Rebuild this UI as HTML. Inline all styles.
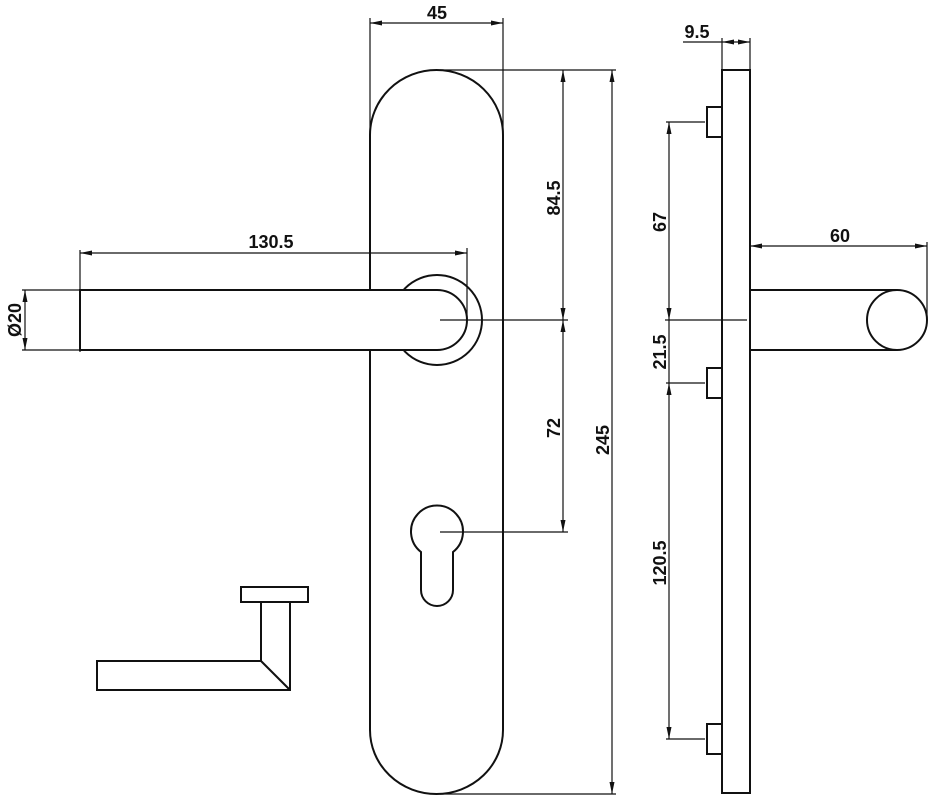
<!DOCTYPE html>
<html><head><meta charset="utf-8"><style>
html,body{margin:0;padding:0;background:#fff;}
svg{display:block;}
text{font-family:"Liberation Sans",sans-serif;font-weight:bold;font-size:18px;fill:#111;}
</style></head><body>
<svg width="931" height="800" viewBox="0 0 931 800" xmlns="http://www.w3.org/2000/svg">
<defs>
<marker id="a" viewBox="0 0 12 6" refX="12" refY="3" markerWidth="12" markerHeight="6" orient="auto-start-reverse" markerUnits="userSpaceOnUse">
<path d="M0,0.5 L12,3 L0,5.5 z" fill="#111"/>
</marker>
</defs>
<g fill="none" stroke="#111" stroke-width="2">
<path d="M370,135 A66.5,65 0 0 1 503,135 L503,730 A66.5,64 0 0 1 370,730 Z" fill="#fff"/>
<circle cx="437" cy="320" r="45" fill="#fff"/>
<path d="M80,290 L437,290 A30,30 0 0 1 437,350 L80,350 Z" fill="#fff"/>
<path d="M421,552 A26,26 0 1 1 453,552 L453,590 A16,16 0 0 1 421,590 Z"/>
<rect x="241" y="587" width="67" height="15"/>
<path d="M261,602 L261,661 L97,661 L97,690 L290,690 L290,602"/>
<path d="M261,661 L290,690"/>
<rect x="722" y="70" width="28" height="723"/>
<rect x="707" y="107" width="15" height="30"/>
<rect x="707" y="368" width="15" height="30"/>
<rect x="707" y="724" width="15" height="30"/>
<path d="M750,290 L897,290 M750,350 L897,350"/>
<circle cx="897" cy="320" r="30"/>
</g>
<g fill="none" stroke="#111" stroke-width="1.2">
<path d="M370,18 L370,135 M503,18 L503,135"/>
<line x1="370" y1="23" x2="503" y2="23" marker-start="url(#a)" marker-end="url(#a)"/>
<path d="M80,250 L80,352 M467,248 L467,320"/>
<line x1="80" y1="253" x2="467" y2="253" marker-start="url(#a)" marker-end="url(#a)"/>
<path d="M22,290 L80,290 M22,350 L80,350"/>
<line x1="25" y1="290" x2="25" y2="350" marker-start="url(#a)" marker-end="url(#a)"/>
<path d="M440,70 L616,70 M440,794 L616,794"/>
<path d="M440,320 L568,320 M440,532 L568,532"/>
<line x1="563" y1="70" x2="563" y2="320" marker-start="url(#a)" marker-end="url(#a)"/>
<line x1="563" y1="320" x2="563" y2="532" marker-start="url(#a)" marker-end="url(#a)"/>
<line x1="612" y1="70" x2="612" y2="794" marker-start="url(#a)" marker-end="url(#a)"/>
<path d="M722,38 L722,70 M750,38 L750,70 M683,42 L722,42"/>
<line x1="722" y1="42" x2="750" y2="42" marker-start="url(#a)" marker-end="url(#a)"/>
<path d="M927,242 L927,320"/>
<line x1="750" y1="246" x2="927" y2="246" marker-start="url(#a)" marker-end="url(#a)"/>
<path d="M666,122 L705,122 M665,320 L747,320 M666,383 L705,383 M666,739 L705,739"/>
<line x1="669" y1="122" x2="669" y2="320" marker-start="url(#a)" marker-end="url(#a)"/>
<line x1="669" y1="320" x2="669" y2="383"/>
<line x1="669" y1="383" x2="669" y2="739" marker-start="url(#a)" marker-end="url(#a)"/>
</g>
<text x="437" y="19" text-anchor="middle">45</text>
<text x="271" y="248" text-anchor="middle">130.5</text>
<text x="697" y="38" text-anchor="middle">9.5</text>
<text x="840" y="242" text-anchor="middle">60</text>
<text transform="translate(21,320) rotate(-90)" text-anchor="middle">Ø20</text>
<text transform="translate(560,198) rotate(-90)" text-anchor="middle">84.5</text>
<text transform="translate(560,428) rotate(-90)" text-anchor="middle">72</text>
<text transform="translate(609,440) rotate(-90)" text-anchor="middle">245</text>
<text transform="translate(666,222) rotate(-90)" text-anchor="middle">67</text>
<text transform="translate(666,352) rotate(-90)" text-anchor="middle">21.5</text>
<text transform="translate(666,563) rotate(-90)" text-anchor="middle">120.5</text>
</svg>
</body></html>
